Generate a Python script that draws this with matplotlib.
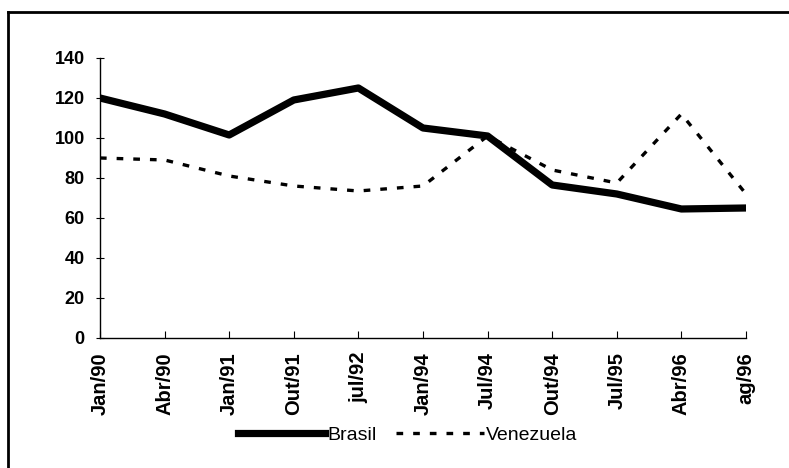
import matplotlib.pyplot as plt
from matplotlib.lines import Line2D

# data
periods = ['Jan/90', 'Abr/90', 'Jan/91', 'Out/91', 'jul/92', 'Jan/94',
           'Jul/94', 'Out/94', 'Jul/95', 'Abr/96', 'ag/96']
brasil = [120, 112, 101.5, 119, 125, 105, 101, 76.5, 72, 64.5, 65]
venezuela = [90, 89, 81, 76, 73.5, 76, 101, 84, 77.5, 112, 72]
y_ticks = [0, 20, 40, 60, 80, 100, 120, 140]

plt.rcParams['font.family'] = ['Liberation Sans', 'DejaVu Sans']

fig = plt.figure(figsize=(7.89, 4.68), dpi=100)
ax = fig.add_axes([0.1267, 0.2778, 0.8188, 0.5983])

x = list(range(len(periods)))
ax.plot(x, brasil, color='black', linewidth=5.2, solid_joinstyle='round',
        label='Brasil')
ax.plot(x, venezuela, color='black', linewidth=2.4, linestyle=(0, (2.0, 3.0)),
        label='Venezuela')

ax.set_xlim(0, len(periods) - 1)
ax.set_ylim(0, 140)
ax.set_yticks(y_ticks)
ax.set_yticklabels([str(v) for v in y_ticks], fontsize=13, fontweight='bold')
ax.set_xticks(x)
ax.set_xticklabels(periods, rotation=90, fontsize=14.5, fontweight='bold')

for side in ['top', 'right']:
    ax.spines[side].set_visible(False)
for side in ['left', 'bottom']:
    ax.spines[side].set_linewidth(1.0)
ax.tick_params(axis='y', direction='inout', length=6, width=0.8, pad=8)
ax.tick_params(axis='x', direction='in', length=5, width=0.8, pad=10)

fig.legend(loc='center left', bbox_to_anchor=(0.3016, 0.0705), ncol=2,
           frameon=False, fontsize=14, handlelength=4.5, borderpad=0,
           borderaxespad=0, columnspacing=1.0, handletextpad=0.1)

# outer frame of the scanned figure (left and top edges only)
fig.add_artist(Line2D([0.010, 0.010], [0.0, 0.975], transform=fig.transFigure,
                      color='black', linewidth=2))
fig.add_artist(Line2D([0.010, 1.0], [0.975, 0.975], transform=fig.transFigure,
                      color='black', linewidth=2))

fig.savefig('out.png', dpi=100)
